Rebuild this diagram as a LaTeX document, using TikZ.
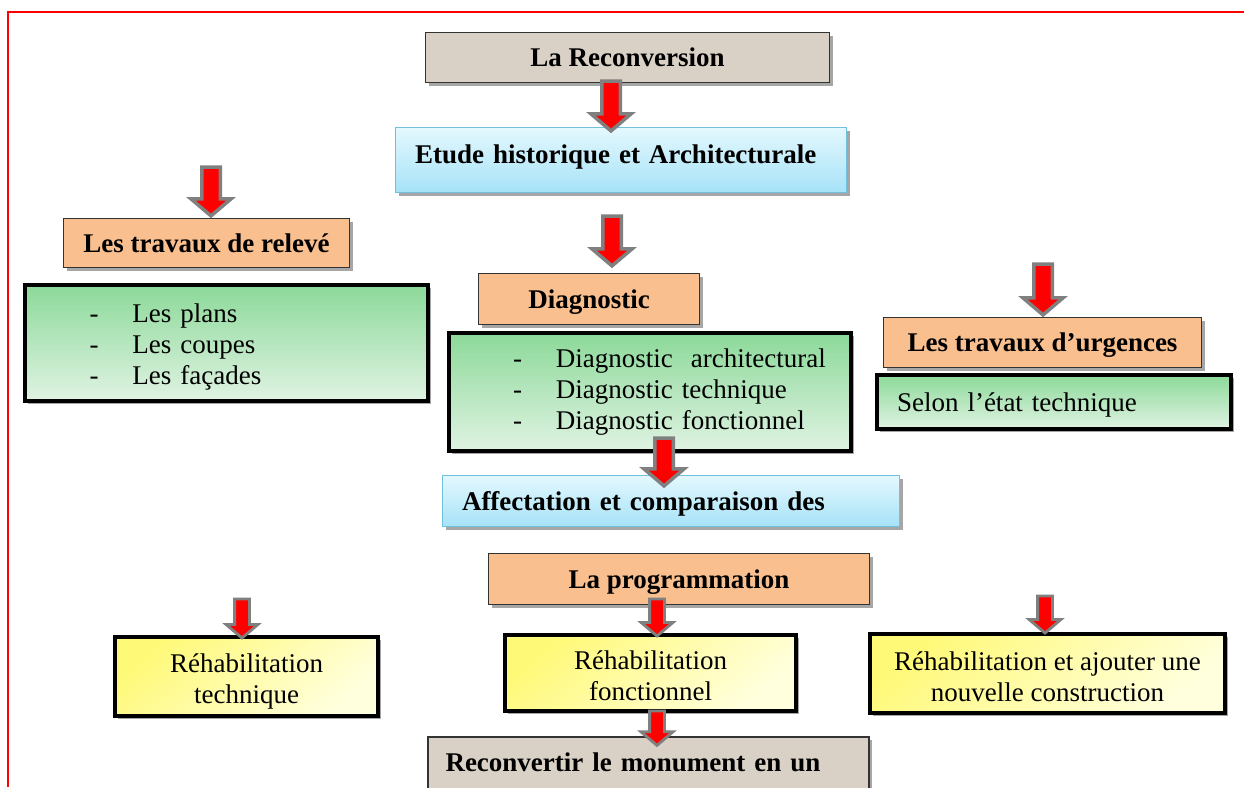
\documentclass[tikz,border=0pt]{standalone}
\usepackage{fontspec}
\setmainfont{Liberation Serif}
\usetikzlibrary{calc,shadows}

\definecolor{beigebox}{RGB}{217,209,198}
\definecolor{orangebox}{RGB}{249,191,143}
\definecolor{bluetop}{RGB}{228,248,254}
\definecolor{bluebot}{RGB}{166,226,247}
\definecolor{blueline}{RGB}{112,192,222}
\definecolor{greentop}{RGB}{140,217,153}
\definecolor{greenbot}{RGB}{224,243,227}
\definecolor{yellowtop}{RGB}{255,249,120}
\definecolor{yellowbot}{RGB}{255,255,222}

\newcommand{\boxfont}{\fontsize{27}{31}\selectfont}
\newcommand{\dashitem}{\hspace*{53pt}-\hspace*{34pt}}
\newcommand{\topstrut}[1]{\rule{0pt}{#1}}
% fat grey-edged red arrow, tip straight below the start point
\newcommand{\blockarrow}[3][1]{%
  \draw[arrowbody, line width=#1*3.5pt]
    let \p1=(#2), \p2=(#3) in
    (\x1-#1*9.25pt,\y1) -- (\x1+#1*9.25pt,\y1)
    -- (\x1+#1*9.25pt,\y2+#1*17pt) -- (\x1+#1*20pt,\y2+#1*17pt)
    -- (\x1,\y2)
    -- (\x1-#1*20pt,\y2+#1*17pt) -- (\x1-#1*9.25pt,\y2+#1*17pt) -- cycle;}

\tikzset{
  shadowed/.style={drop shadow={shadow xshift=3pt, shadow yshift=-3pt, opacity=0.35, fill=black}},
  titlebox/.style={shadowed, draw=black!80, line width=1.2pt, fill=beigebox, inner sep=0pt,
    font=\boxfont\bfseries, text height=18pt, text depth=0pt},
  headbox/.style={titlebox, fill=orangebox},
  bluebox/.style={shadowed, draw=blueline, line width=1.2pt, top color=bluetop, bottom color=bluebot,
    inner sep=0pt, align=left, font=\boxfont\bfseries, text height=18pt, text depth=0pt},
  listbox/.style={shadowed, draw=black, line width=4pt, top color=greentop, bottom color=greenbot,
    inner sep=0pt, align=left, text width=380pt, font=\boxfont},
  yellowbox/.style={shadowed, draw=black, line width=4pt, top color=yellowtop, bottom color=yellowbot,
    shading angle=40, inner sep=0pt, align=center, font=\boxfont},
  arrowbody/.style={draw=gray, fill=red, line join=miter},
}

\begin{document}
\begin{tikzpicture}[x=1pt, y=-1pt]
  \useasboundingbox (0,0) rectangle (1244,787);
  \clip (0,0) rectangle (1244,787);
  \draw[red, line width=1.5pt] (8,787) -- (8,12) -- (1244,12);

  \node[titlebox, minimum width=404pt, minimum height=50pt] (reconv) at (627.5,57.5) {La Reconversion};
  \node[bluebox, minimum width=451pt, minimum height=65pt, text width=412pt, text depth=12pt] (etude) at (621,160) {Etude historique et Architecturale};

  \node[headbox, minimum width=286pt, minimum height=49pt] (releve) at (206.5,243) {Les travaux de relevé};
  \node[listbox, minimum width=403pt, minimum height=116pt] (plans) at (226.5,343)
    {\topstrut{26pt}\dashitem Les plans\\ \dashitem Les coupes\\ \dashitem Les façades};

  \node[headbox, minimum width=221pt, minimum height=51pt] (diag) at (589,299) {Diagnostic};
  \node[listbox, minimum width=402pt, minimum height=118pt] (diaglist) at (650,392)
    {\dashitem Diagnostic~ architectural\\ \dashitem Diagnostic technique\\ \dashitem Diagnostic fonctionnel};

  \node[headbox, minimum width=318pt, minimum height=50pt] (urgence) at (1042.5,342.5) {Les travaux d’urgences};
  \node[listbox, minimum width=354pt, minimum height=54pt, text width=314pt, text height=18pt, text depth=0pt] (etat) at (1054,402) {Selon l’état technique};

  \node[bluebox, minimum width=457pt, minimum height=51pt, text width=418pt] (affect) at (671,501) {Affectation et comparaison des};
  \node[headbox, minimum width=381pt, minimum height=51pt] (prog) at (679,579) {La programmation};

  \node[yellowbox, minimum width=263pt, minimum height=79pt] (rtech) at (246.5,676.5) {\topstrut{29pt}Réhabilitation\\technique};
  \node[yellowbox, minimum width=291pt, minimum height=76pt] (rfonc) at (650.5,673) {\topstrut{25pt}Réhabilitation\\fonctionnel};
  \node[yellowbox, minimum width=355pt, minimum height=79pt] (rajout) at (1047.5,673.5) {\topstrut{25pt}Réhabilitation et ajouter une\\nouvelle construction};
  \node[titlebox, minimum width=441pt, minimum height=74pt, text width=406pt, align=left, text depth=24pt] (monument) at (648.5,774) {Reconvertir le monument en un};

  \coordinate (a1) at (611,81);
  \coordinate (a2) at (211,167);
  \coordinate (a3) at (612,216);
  \coordinate (a4) at (1043,264);
  \coordinate (a5) at (664,438);
  \coordinate (a6) at (242,599);
  \coordinate (a7) at (657,599);
  \coordinate (a8) at (1045,596);
  \coordinate (a9) at (657,711);

  \blockarrow{a1}{[yshift=-4pt]etude.north}
  \blockarrow{a2}{[yshift=2pt]releve.north}
  \blockarrow{a3}{[yshift=7pt]diag.north}
  \blockarrow{a4}{[yshift=2pt]urgence.north}
  \blockarrow{a5}{[yshift=-11pt]affect.north}
  \blockarrow[0.8]{a6}{[yshift=-3pt]rtech.north}
  \blockarrow[0.8]{a7}{[yshift=-3pt]rfonc.north}
  \blockarrow[0.8]{a8}{[yshift=-1pt]rajout.north}
  \blockarrow[0.8]{a9}{[yshift=-9pt]monument.north}
\end{tikzpicture}
\end{document}
